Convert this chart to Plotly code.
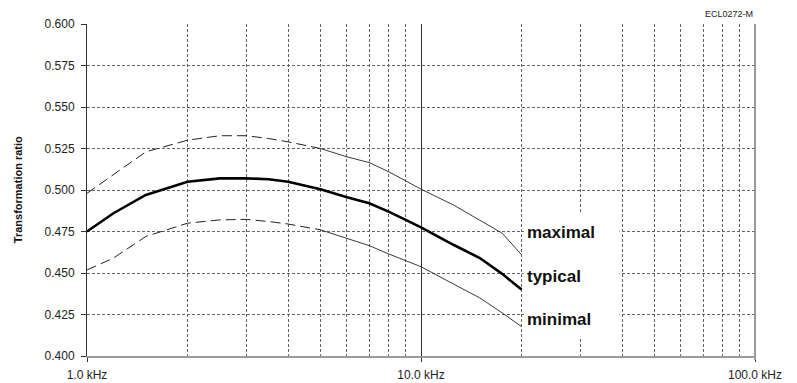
import plotly.graph_objects as go

# ---- data ----
freq_khz = [1.0, 1.2, 1.5, 2.0, 2.5, 3.0, 3.5, 4.0, 5.0, 6.0, 7.0, 8.0, 9.0,
            10.0, 12.5, 15.0, 17.5, 20.0]
ratio_max = [0.498, 0.509, 0.523, 0.530, 0.5327, 0.5327, 0.531, 0.529, 0.525,
             0.520, 0.5165, 0.511, 0.5055, 0.5005, 0.491, 0.482, 0.474, 0.461]
ratio_typ = [0.475, 0.486, 0.497, 0.505, 0.507, 0.507, 0.5065, 0.505, 0.5005,
             0.4956, 0.492, 0.487, 0.482, 0.4775, 0.467, 0.459, 0.4495, 0.440]
ratio_min = [0.4518, 0.459, 0.472, 0.480, 0.482, 0.4823, 0.481, 0.4795, 0.476,
             0.471, 0.4665, 0.4615, 0.4575, 0.4538, 0.4434, 0.435, 0.426, 0.4177]
dash_until_khz = 5.0   # outer curves are dashed up to this frequency

y_ticks = [0.400, 0.425, 0.450, 0.475, 0.500, 0.525, 0.550, 0.575, 0.600]
x_major = [1, 10, 100]
x_major_text = ["1.0 kHz", "10.0 kHz", "100.0 kHz"]
x_minor = [2, 3, 4, 5, 6, 7, 8, 9, 20, 30, 40, 50, 60, 70, 80, 90]
series_labels = ["maximal", "typical", "minimal"]

FONT = "Arial, Liberation Sans, sans-serif"

split = freq_khz.index(dash_until_khz)

fig = go.Figure()
for vals in (ratio_max, ratio_min):
    fig.add_trace(go.Scatter(x=freq_khz[:split + 1], y=vals[:split + 1], mode="lines",
                             line=dict(color="#222", width=1, dash="10px,5px"),
                             showlegend=False, hoverinfo="skip"))
    fig.add_trace(go.Scatter(x=freq_khz[split:], y=vals[split:], mode="lines",
                             line=dict(color="#222", width=0.9),
                             showlegend=False, hoverinfo="skip"))
fig.add_trace(go.Scatter(x=freq_khz, y=ratio_typ, mode="lines",
                         line=dict(color="#000", width=2.6),
                         showlegend=False, hoverinfo="skip"))

fig.update_layout(
    width=797, height=383, autosize=False,
    margin=dict(l=87, r=42, t=24, b=27),
    paper_bgcolor="white", plot_bgcolor="white",
    font=dict(family=FONT, size=12, color="#222"),
    xaxis=dict(
        type="log", range=[0, 2], automargin=False,
        tickvals=x_major, ticktext=x_major_text,
        ticks="outside", ticklen=4, tickcolor="#333",
        ticklabelstandoff=3,
        showgrid=True, gridcolor="#333", gridwidth=1,
        showline=True, linecolor="#999", linewidth=2,
        zeroline=False,
        minor=dict(tickvals=x_minor, showgrid=True, gridcolor="#666",
                   griddash="3px,2px", gridwidth=1, ticks=""),
        tickfont=dict(size=12, color="#222"),
    ),
    yaxis=dict(
        range=[0.4, 0.6], tickvals=y_ticks, tickformat=".3f", automargin=False,
        ticks="outside", ticklen=5, tickcolor="#333",
        ticklabelstandoff=4,
        showgrid=True, gridcolor="#666", griddash="3px,2px", gridwidth=1,
        showline=True, linecolor="#333", linewidth=1,
        zeroline=False,
        tickfont=dict(size=12, color="#222"),
    ),
)

# right border at 100 kHz
fig.add_shape(type="line", xref="paper", yref="paper", x0=1, x1=1, y0=-0.012, y1=1,
              line=dict(color="#999", width=2))
# white box behind the series labels
fig.add_shape(type="rect", xref="paper", yref="paper", x0=0.654, x1=0.797,
              y0=0.058, y1=0.428, fillcolor="white", line=dict(width=0), layer="above")

label_y = [0.4745, 0.4478, 0.4217]
for txt, yv in zip(series_labels, label_y):
    fig.add_annotation(x=1.301, y=yv, xref="x", yref="y", text="<b>%s</b>" % txt,
                       showarrow=False, xanchor="left", yanchor="middle", xshift=3,
                       font=dict(family=FONT, size=17, color="#111"))

fig.add_annotation(x=-0.103, y=0.5, xref="paper", yref="paper",
                   text="<b>Transformation ratio</b>", textangle=-90, showarrow=False,
                   xanchor="center", yanchor="middle",
                   font=dict(family=FONT, size=11, color="#111"))
fig.add_annotation(x=1, y=1.03, xref="paper", yref="paper", text="ECL0272-M",
                   showarrow=False, xanchor="right", yanchor="middle",
                   font=dict(family=FONT, size=9, color="#222"))

fig.write_html("out.html", config={"displayModeBar": False},
               post_script="document.body.style.margin='0';document.body.style.overflow='hidden';")
